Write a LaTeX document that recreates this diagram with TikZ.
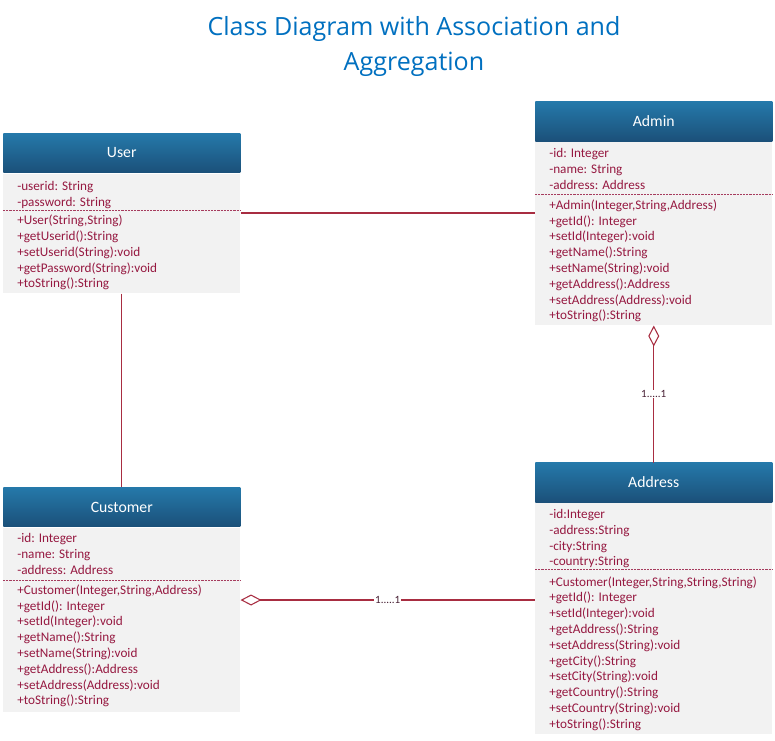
\documentclass[tikz,border=0pt]{standalone}
\usepackage{fontspec}
\setmainfont{Carlito}
\newfontfamily\titlefont{Open Sans}
\usetikzlibrary{arrows.meta}
\definecolor{hdtop}{RGB}{37,121,170}
\definecolor{hdbot}{RGB}{27,80,121}
\definecolor{bodyfill}{RGB}{242,242,242}
\definecolor{txt}{RGB}{150,25,65}
\definecolor{lnk}{RGB}{168,45,65}
\definecolor{ttl}{RGB}{0,112,192}
\definecolor{multc}{RGB}{70,30,50}
\tikzset{
  AggD/.tip={Diamond[open,length=15.75pt,width=8.25pt]},
  titletext/.style={anchor=base, text=ttl, inner sep=0, font=\titlefont\fontsize{18.8}{26}\selectfont},
  hdr/.style={draw=none, top color=hdtop, bottom color=hdbot, text=white,
    font=\fontsize{11.8}{14}\selectfont, minimum width=177.75pt,
    minimum height=29.6pt, inner sep=0, anchor=north west},
  bodybox/.style={fill=bodyfill, draw=none, minimum width=177.75pt, anchor=north west, inner sep=0},
  members/.style={anchor=north west, align=left, inner sep=0, text=txt,
    font=\fontsize{9.9}{11.85}\selectfont},
  sepline/.style={draw=txt!85, line width=0.5pt, dash pattern=on 1.6pt off 0.8pt},
  link/.style={draw=lnk, line width=0.8pt},
  mult/.style={fill=white, inner sep=0.6pt, text=multc, font=\fontsize{8.3}{10}\selectfont}
}
\begin{document}
\begin{tikzpicture}[x=0.75pt,y=-0.75pt]
\useasboundingbox (0,0) rectangle (775,740);
\fill[white] (0,0) rectangle (775,740);

% title
\node[titletext] (title1) at (414,35.5) {Class Diagram with Association and};
\node[titletext] (title2) at (414,70) {Aggregation};

% User
\node[hdr] (userhead) at (3,133) {User};
\node[bodybox, minimum height=119.5*0.75pt] (userbody) at (3,173.5) {};
\node[members] (userattr) at (17,179.2) {\strut -userid: String\\-password: String};
\draw[sepline] (3,210) -- (240,210);
\node[members] (usermeth) at (17,213.4) {\strut +User(String,String)\\+getUserid():String\\+setUserid(String):void\\+getPassword(String):void\\+toString():String};

% Admin
\node[hdr] (adminhead) at (535,101.5) {Admin};
\node[bodybox, minimum height=183*0.75pt] (adminbody) at (535,142) {};
\node[members] (adminattr) at (549,146.6) {\strut -id: Integer\\-name: String\\-address: Address};
\draw[sepline] (535,194.3) -- (772,194.3);
\node[members] (adminmeth) at (549,198) {\strut +Admin(Integer,String,Address)\\+getId(): Integer\\+setId(Integer):void\\+getName():String\\+setName(String):void\\+getAddress():Address\\+setAddress(Address):void\\+toString():String};

% Customer
\node[hdr] (custhead) at (3,487) {Customer};
\node[bodybox, minimum height=184*0.75pt] (custbody) at (3,527.5) {};
\node[members] (custattr) at (17,531.6) {\strut -id: Integer\\-name: String\\-address: Address};
\draw[sepline] (3,580) -- (240,580);
\node[members] (custmeth) at (17,583) {\strut +Customer(Integer,String,Address)\\+getId(): Integer\\+setId(Integer):void\\+getName():String\\+setName(String):void\\+getAddress():Address\\+setAddress(Address):void\\+toString():String};

% Address
\node[hdr] (addrhead) at (535,462.5) {Address};
\node[bodybox, minimum height=231*0.75pt] (addrbody) at (535,503) {};
\node[members] (addrattr) at (549,507.2) {\strut -id:Integer\\-address:String\\-city:String\\-country:String};
\draw[sepline] (535,569.3) -- (772,569.3);
\node[members] (addrmeth) at (549,574.8) {\strut +Customer(Integer,String,String,String)\\+getId(): Integer\\+setId(Integer):void\\+getAddress():String\\+setAddress(String):void\\+getCity():String\\+setCity(String):void\\+getCountry():String\\+setCountry(String):void\\+toString():String};

% connectors
\coordinate (ua) at (0,213);
\coordinate (ca) at (0,600);
\draw[link] (userbody.east |- ua) -- (adminbody.west |- ua);
\draw[link] (userbody.south) -- (custhead.north);
\draw[link, AggD-] (adminbody.south) -- node[mult] (m1) {1.....1} (addrhead.north);
\draw[link, AggD-] (custbody.east |- ca) -- node[mult] (m2) {1.....1} (addrbody.west |- ca);
\end{tikzpicture}
\end{document}
